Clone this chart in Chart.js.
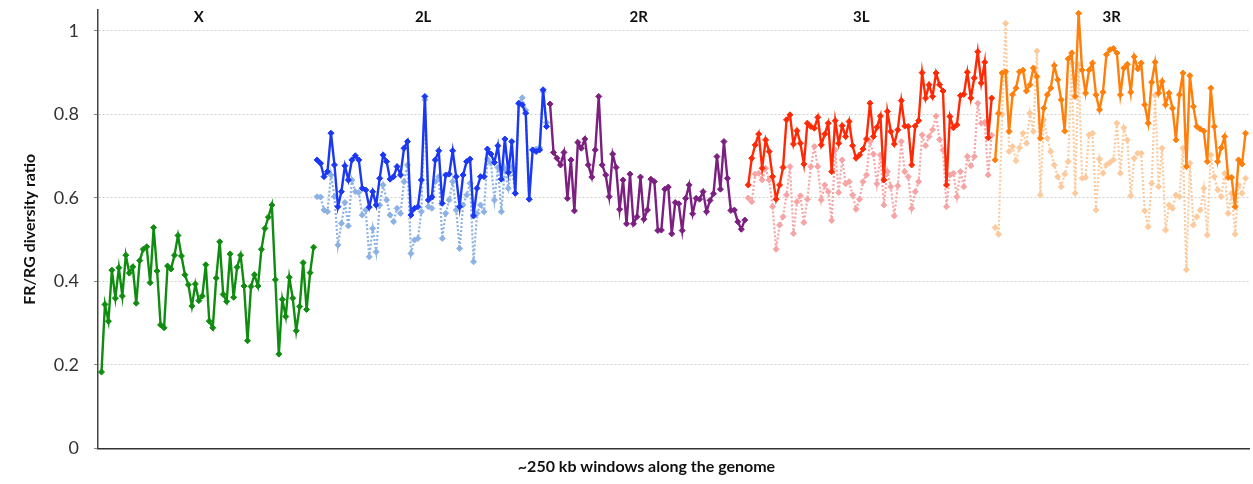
<!DOCTYPE html>
<html>
<head>
<meta charset="utf-8">
<script src="https://cdn.jsdelivr.net/npm/chart.js@4/dist/chart.umd.min.js"></script>
<style>
  html, body { margin: 0; background: #fff; }
</style>
</head>
<body>
<canvas id="c" width="1253" height="484"></canvas>
<script>
// chromosome arms, in genome order
const armNames = ['X', '2L', '2R', '3L', '3R'];

// FR/RG diversity ratio per ~250 kb window (solid series)
const armX = [0.183, 0.345, 0.305, 0.427, 0.36, 0.433, 0.365, 0.463, 0.42, 0.435, 0.348, 0.45, 0.477, 0.483, 0.397, 0.529, 0.425, 0.296, 0.289, 0.437, 0.43, 0.463, 0.51, 0.461, 0.416, 0.392, 0.341, 0.394, 0.354, 0.365, 0.44, 0.305, 0.289, 0.408, 0.495, 0.369, 0.352, 0.466, 0.362, 0.434, 0.463, 0.389, 0.258, 0.388, 0.416, 0.389, 0.477, 0.527, 0.554, 0.583, 0.404, 0.226, 0.357, 0.316, 0.41, 0.36, 0.282, 0.34, 0.445, 0.333, 0.421, 0.482];
const arm2L = [0.691, 0.683, 0.651, 0.663, 0.755, 0.679, 0.579, 0.615, 0.677, 0.643, 0.691, 0.701, 0.691, 0.623, 0.619, 0.578, 0.615, 0.583, 0.647, 0.703, 0.687, 0.645, 0.651, 0.675, 0.655, 0.719, 0.735, 0.559, 0.575, 0.579, 0.643, 0.843, 0.595, 0.602, 0.691, 0.713, 0.587, 0.655, 0.657, 0.713, 0.651, 0.579, 0.655, 0.687, 0.693, 0.557, 0.623, 0.651, 0.651, 0.717, 0.705, 0.685, 0.725, 0.645, 0.741, 0.661, 0.735, 0.611, 0.827, 0.823, 0.803, 0.597, 0.715, 0.711, 0.715, 0.859, 0.771];
const arm2R = [0.825, 0.709, 0.695, 0.679, 0.709, 0.599, 0.691, 0.569, 0.733, 0.719, 0.741, 0.679, 0.65, 0.715, 0.843, 0.679, 0.655, 0.603, 0.705, 0.673, 0.573, 0.643, 0.538, 0.657, 0.538, 0.555, 0.65, 0.549, 0.571, 0.645, 0.639, 0.522, 0.523, 0.621, 0.626, 0.514, 0.589, 0.586, 0.522, 0.599, 0.631, 0.562, 0.599, 0.597, 0.615, 0.567, 0.594, 0.61, 0.699, 0.621, 0.735, 0.647, 0.57, 0.571, 0.543, 0.525, 0.547];
const arm3L = [0.631, 0.695, 0.727, 0.753, 0.671, 0.739, 0.711, 0.651, 0.597, 0.631, 0.673, 0.787, 0.799, 0.729, 0.761, 0.731, 0.681, 0.779, 0.771, 0.767, 0.793, 0.727, 0.753, 0.779, 0.663, 0.785, 0.731, 0.773, 0.747, 0.783, 0.725, 0.695, 0.703, 0.717, 0.741, 0.827, 0.747, 0.769, 0.796, 0.643, 0.807, 0.759, 0.729, 0.763, 0.833, 0.772, 0.771, 0.679, 0.772, 0.785, 0.9, 0.839, 0.871, 0.843, 0.899, 0.871, 0.856, 0.631, 0.795, 0.768, 0.775, 0.845, 0.848, 0.901, 0.839, 0.887, 0.95, 0.875, 0.925, 0.744, 0.839];
const arm3R = [0.691, 0.803, 0.899, 0.902, 0.759, 0.847, 0.863, 0.902, 0.906, 0.856, 0.871, 0.911, 0.891, 0.743, 0.815, 0.847, 0.863, 0.917, 0.883, 0.835, 0.76, 0.933, 0.947, 0.843, 1.042, 0.906, 0.851, 0.906, 0.923, 0.847, 0.811, 0.853, 0.943, 0.955, 0.958, 0.947, 0.847, 0.911, 0.92, 0.853, 0.938, 0.909, 0.923, 0.823, 0.779, 0.877, 0.925, 0.851, 0.879, 0.823, 0.851, 0.815, 0.739, 0.847, 0.899, 0.675, 0.893, 0.819, 0.771, 0.765, 0.76, 0.687, 0.863, 0.771, 0.687, 0.72, 0.747, 0.649, 0.649, 0.579, 0.691, 0.681, 0.755];

// second (dotted) series for the autosome arms
const arm2Lb = [0.603, 0.602, 0.571, 0.567, 0.655, 0.603, 0.487, 0.539, 0.589, 0.533, 0.643, 0.615, 0.613, 0.559, 0.571, 0.459, 0.527, 0.471, 0.583, 0.631, 0.595, 0.559, 0.543, 0.575, 0.563, 0.639, 0.679, 0.467, 0.499, 0.503, 0.567, 0.835, 0.579, 0.575, 0.639, 0.651, 0.503, 0.563, 0.595, 0.639, 0.571, 0.479, 0.583, 0.607, 0.635, 0.447, 0.563, 0.583, 0.567, 0.693, 0.683, 0.595, 0.673, 0.567, 0.669, 0.623, 0.673, 0.611, 0.825, 0.84, 0.81, 0.597, 0.715, 0.717, 0.72, 0.855, 0.78];
const arm3Lb = [0.60, 0.591, 0.657, 0.659, 0.643, 0.671, 0.643, 0.579, 0.477, 0.535, 0.555, 0.607, 0.675, 0.515, 0.591, 0.605, 0.541, 0.597, 0.675, 0.723, 0.675, 0.595, 0.631, 0.615, 0.546, 0.715, 0.613, 0.691, 0.634, 0.639, 0.607, 0.573, 0.597, 0.639, 0.655, 0.735, 0.705, 0.634, 0.703, 0.583, 0.663, 0.627, 0.557, 0.629, 0.735, 0.663, 0.651, 0.575, 0.615, 0.639, 0.751, 0.725, 0.747, 0.763, 0.796, 0.74, 0.715, 0.579, 0.655, 0.659, 0.603, 0.663, 0.627, 0.699, 0.677, 0.699, 0.827, 0.779, 0.781, 0.655, 0.75];
const arm3Rb = [0.529, 0.513, 0.80, 1.018, 0.711, 0.723, 0.689, 0.72, 0.755, 0.731, 0.803, 0.759, 0.952, 0.607, 0.787, 0.743, 0.711, 0.679, 0.651, 0.627, 0.657, 0.687, 0.923, 0.611, 0.919, 0.647, 0.649, 0.751, 0.755, 0.571, 0.693, 0.659, 0.679, 0.685, 0.691, 0.779, 0.659, 0.768, 0.739, 0.605, 0.695, 0.707, 0.707, 0.569, 0.531, 0.635, 0.847, 0.627, 0.719, 0.523, 0.583, 0.575, 0.607, 0.603, 0.719, 0.428, 0.683, 0.535, 0.555, 0.571, 0.623, 0.511, 0.703, 0.651, 0.619, 0.603, 0.659, 0.563, 0.611, 0.513, 0.631, 0.611, 0.647];

const yTicks = [0, 0.2, 0.4, 0.6, 0.8, 1];

const arms = [armX, arm2L, arm2R, arm3L, arm3R];
const armStart = [];
let n = 0;
arms.forEach(a => { armStart.push(n); n += a.length; });

function pts(values, start) {
    return values.map((v, i) => ({ x: start + i, y: v }));
}

function solid(values, armIdx, color) {
    return {
        data: pts(values, armStart[armIdx]),
        borderColor: color,
        backgroundColor: color,
        borderWidth: 2.4,
        pointStyle: 'rectRot',
        pointRadius: 3,
        pointBorderWidth: 1,
        pointHoverRadius: 3,
        tension: 0,
        clip: false,
        order: 0
    };
}

function dotted(values, armIdx, color) {
    return {
        data: pts(values, armStart[armIdx]),
        borderColor: color,
        backgroundColor: color,
        borderWidth: 2.2,
        borderDash: [2, 2],
        pointStyle: 'rectRot',
        pointRadius: 3,
        pointBorderWidth: 1,
        pointHoverRadius: 3,
        tension: 0,
        clip: false,
        order: 1
    };
}

const textPlugin = {
    id: 'armLabels',
    afterDraw(chart) {
        const ctx = chart.ctx;
        const xs = chart.scales.x;
        const area = chart.chartArea;
        ctx.save();
        ctx.fillStyle = '#111';
        ctx.textAlign = 'center';
        ctx.textBaseline = 'middle';
        ctx.font = 'bold 15px Lato';
        arms.forEach((a, i) => {
            const mid = armStart[i] + a.length / 2 - 3;
            ctx.fillText(armNames[i], xs.getPixelForValue(mid), 17);
        });
        ctx.font = 'bold 16px Lato';
        ctx.fillText('~250 kb windows along the genome', (area.left + area.right) / 2 - 27, 467);
        ctx.restore();
    }
};

new Chart(document.getElementById('c').getContext('2d'), {
    type: 'line',
    data: {
        datasets: [
            solid(armX, 0, '#108c10'),
            solid(arm2L, 1, '#1b38f2'),
            solid(arm2R, 2, '#7b1f80'),
            solid(arm3L, 3, '#ff2a05'),
            solid(arm3R, 4, '#ff7f0a'),
            dotted(arm2Lb, 1, '#8cb2e4'),
            dotted(arm3Lb, 3, '#f6a4a4'),
            dotted(arm3Rb, 4, '#fcca9c')
        ]
    },
    options: {
        responsive: false,
        animation: false,
        layout: { padding: { top: 10, right: 1, left: 0, bottom: 0 } },
        plugins: {
            legend: { display: false },
            tooltip: { enabled: false }
        },
        scales: {
            x: {
                type: 'linear',
                min: -1,
                max: n,
                grid: { display: false },
                border: { display: true, color: '#333', width: 1.5 },
                ticks: { display: false },
                afterFit(scale) {
                    scale.height = 35.5;
                    scale.paddingLeft = 0;
                    scale.paddingRight = 0;
                }
            },
            y: {
                min: 0,
                max: 1.05,
                afterBuildTicks(scale) {
                    scale.ticks = yTicks.map(v => ({ value: v }));
                },
                afterFit(scale) {
                    scale.width = 98;
                    scale.paddingTop = 0;
                    scale.paddingBottom = 0;
                },
                grid: {
                    color: c => (c.tick && c.tick.value === 0) ? 'rgba(0,0,0,0)' : '#cfcfcf',
                    lineWidth: 1,
                    tickLength: 4,
                    tickColor: '#888'
                },
                border: { display: true, color: '#444', width: 1.5, dash: [2, 2] },
                ticks: {
                    padding: 15,
                    color: '#333',
                    font: { family: 'Lato', size: 18 },
                    callback: v => String(v)
                },
                title: {
                    display: true,
                    text: 'FR/RG diversity ratio',
                    color: '#111',
                    font: { family: 'Lato', size: 16, weight: 'bold' },
                    padding: { top: 20, bottom: 0 }
                }
            }
        }
    },
    plugins: [textPlugin]
});
</script>
</body>
</html>
